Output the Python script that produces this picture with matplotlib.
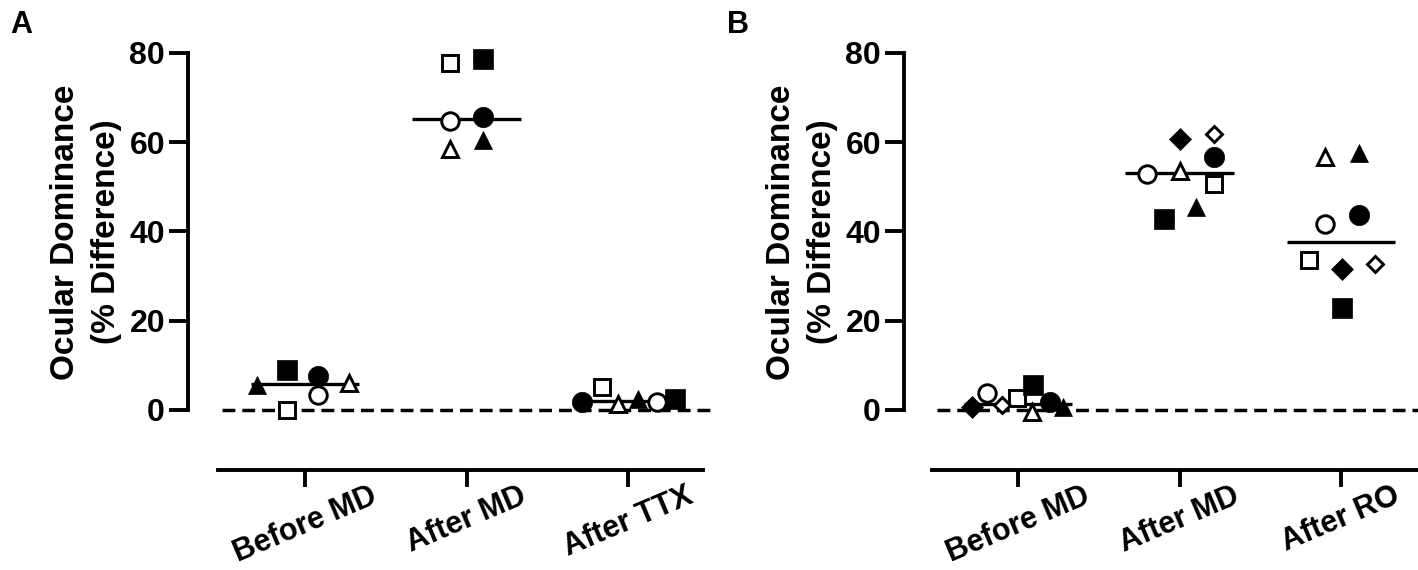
import numpy as np
import matplotlib.pyplot as plt

plt.rcParams['font.family'] = ['Liberation Sans', 'DejaVu Sans']
plt.rcParams['font.weight'] = 'bold'

# ---- data ----
groups_a = ["Before MD", "After MD", "After TTX"]
subjects_a = ["open_circle", "filled_circle", "open_square", "filled_square",
              "open_triangle", "filled_triangle"]
before_md_a = [3.4, 7.6, 0.1, 9.0, 6.1, 5.6]
after_md_a = [64.7, 65.7, 77.8, 78.7, 58.4, 60.6]
after_ttx_a = [1.8, 1.7, 5.1, 2.5, 1.3, 2.4]

groups_b = ["Before MD", "After MD", "After RO"]
subjects_b = ["open_circle", "filled_circle", "open_square", "filled_square",
              "open_triangle", "filled_triangle", "open_diamond", "filled_diamond"]
before_md_b = [3.7, 1.8, 2.6, 5.6, -0.5, 0.6, 1.1, 0.7]
after_md_b = [52.8, 56.7, 50.7, 42.7, 53.5, 45.5, 61.8, 60.8]
after_ro_b = [41.6, 43.7, 33.6, 22.8, 56.6, 57.5, 32.7, 31.5]

# horizontal scatter of the points inside each group (layout only)
jitter_a = [
    [0.083, 0.083, -0.11, -0.11, 0.275, -0.30],
    [-0.10, 0.10, -0.10, 0.10, -0.10, 0.10],
    [0.18, -0.285, -0.16, 0.29, -0.06, 0.06],
]
jitter_b = [
    [-0.19, 0.20, -0.005, 0.093, 0.087, 0.28, -0.10, -0.285],
    [-0.203, 0.211, 0.211, -0.099, 0.004, 0.104, 0.211, 0.004],
    [-0.097, 0.11, -0.20, 0.006, -0.097, 0.11, 0.213, 0.006],
]

# ---- styles ----
LW = 2.8
marker_style = {
    "circle": dict(marker="o", ms=12.6, ms_f=14.6),
    "square": dict(marker="s", ms=11.8, ms_f=14.0),
    "triangle": dict(marker="^", ms=11.4, ms_f=13.6),
    "diamond": dict(marker="D", ms=8.6, ms_f=11.0),
}

W, H = 1418, 570
fig = plt.figure(figsize=(W / 100, H / 100), dpi=100)


def draw_panel(left_px, right_px, x0_px, groups, subjects, series, jitter,
               spine_x, ref_x, letter, letter_px):
    unit = 161.5
    ax = fig.add_axes([left_px / W, 100 / H, (right_px - left_px) / W, 440 / H])
    ax.set_xlim(-(x0_px - left_px) / unit, (right_px - x0_px) / unit)
    ax.set_ylim(-13.445, 85.15)

    ax.hlines(0, ref_x[0], ref_x[1], colors="black", lw=2.5,
              linestyles=(0, (3.7, 2.0)), zorder=1)

    for gi, vals in enumerate(series):
        med = np.median(vals)
        ax.hlines(med, gi - 0.335, gi + 0.335, colors="black", lw=2.4, zorder=2)
        for si, name in enumerate(subjects):
            fill, shape = name.split("_")
            st = marker_style[shape]
            x = gi + jitter[gi][si]
            if fill == "filled":
                ax.plot(x, vals[si], st["marker"], ms=st["ms_f"], mfc="black",
                        mec="black", mew=0.5, clip_on=False, zorder=3)
            else:
                ax.plot(x, vals[si], st["marker"], ms=st["ms"], mfc="white",
                        mec="black", mew=2.1, clip_on=False, zorder=3)

    for s in ["top", "right"]:
        ax.spines[s].set_visible(False)
    ax.spines["left"].set_bounds(0, 80)
    ax.spines["bottom"].set_bounds(spine_x[0], spine_x[1])
    for s in ["left", "bottom"]:
        ax.spines[s].set_linewidth(LW)
        ax.spines[s].set_capstyle("projecting")

    ax.set_yticks([0, 20, 40, 60, 80])
    ax.set_xticks(range(len(groups)))
    ax.set_xticklabels(groups, rotation=23, ha="center")
    ax.tick_params(axis="y", length=13.5, width=LW, pad=3, labelsize=23)
    ax.tick_params(axis="x", length=12.5, width=LW, pad=-4.5, labelsize=22)
    for lab in ax.get_xticklabels() + ax.get_yticklabels():
        lab.set_fontweight("bold")

    fig.text(letter_px[0] / W, 1 - 232 / H, "Ocular Dominance\n(% Difference)",
             rotation=90, ha="center", va="center", fontsize=24,
             fontweight="bold", linespacing=1.45)
    fig.text(letter_px[1] / W, 1 - 10 / H, letter, ha="left", va="top",
             fontsize=22, fontweight="bold")
    return ax


draw_panel(188, 715, 305, groups_a, subjects_a,
           [before_md_a, after_md_a, after_ttx_a], jitter_a,
           spine_x=(-0.539, 2.464), ref_x=(-0.514, 2.539),
           letter="A", letter_px=(86, 10))
draw_panel(904, 1418, 1018, groups_b, subjects_b,
           [before_md_b, after_md_b, after_ro_b], jitter_b,
           spine_x=(-0.532, 2.477), ref_x=(-0.50, 2.477),
           letter="B", letter_px=(802, 727))

fig.savefig("out.png", dpi=100)
